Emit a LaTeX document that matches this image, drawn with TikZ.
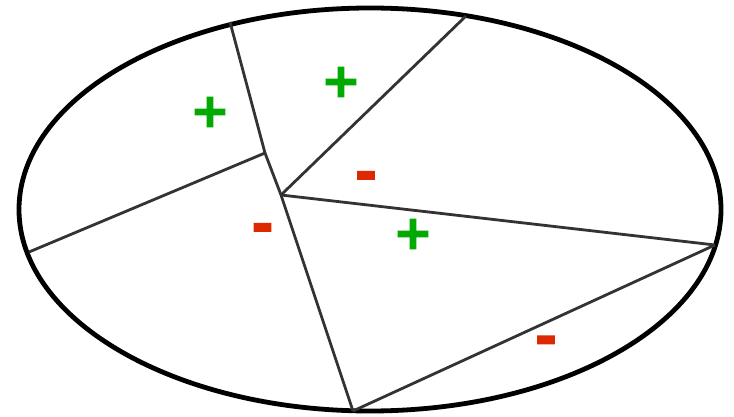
\documentclass[tikz,border=0pt]{standalone}
\usepackage{fontspec}
\newfontfamily\signfont[FakeBold=3]{DejaVu Sans Bold}
\definecolor{plusgreen}{RGB}{0,170,0}
\definecolor{minusred}{RGB}{221,40,0}
\definecolor{edgegrey}{RGB}{51,51,51}
\begin{document}
\begin{tikzpicture}[x=1pt,y=-1pt,
  edge/.style={draw=edgegrey,line width=2.8pt},
  plussign/.style={text=plusgreen,font=\signfont\fontsize{47}{47}\selectfont,inner sep=0pt},
  minussign/.style={text=minusred,font=\signfont\fontsize{52}{52}\selectfont,inner sep=0pt,yshift=-6.5pt}]
\useasboundingbox (0,0) rectangle (734,417);
\draw[line width=4.8pt] (370,209.5) ellipse [x radius=351, y radius=201.5];
\coordinate (t1) at (230,22);
\coordinate (t2) at (466,16);
\coordinate (l) at (29,252);
\coordinate (r) at (715,245);
\coordinate (b) at (353,411);
\coordinate (j1) at (265,153);
\coordinate (j2) at (281,195);
\draw[edge] (t1) -- (j1) -- (j2) -- (b);
\draw[edge] (l) -- (j1);
\draw[edge] (j2) -- (t2);
\draw[edge] (j2) -- (r);
\draw[edge] (b) -- (r);
\node[plussign] (p1) at (210,112) {+};
\node[plussign] (p2) at (341,82) {+};
\node[plussign] (p3) at (413,234) {+};
\node[minussign] (m1) at (366,174.5) {-};
\node[minussign] (m2) at (262.5,226.5) {-};
\node[minussign] (m3) at (546,339) {-};
\end{tikzpicture}
\end{document}
